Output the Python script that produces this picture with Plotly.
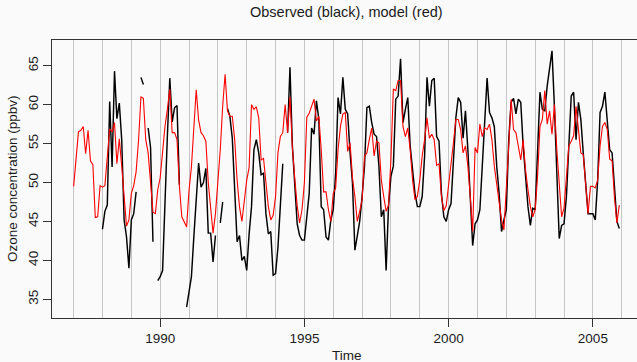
import plotly.graph_objects as go

start_year = 1987
months_per_year = 12

# Observed ozone (ppbv), monthly Jan 1987 - Dec 2005 (None = missing)
observed = [
    None, None, None, None, None, None, None, None, None, None, None, None,   # 1987
    44.0, 46.3, 47.1, 60.4, 52.0, 64.3, 58.2, 60.2, 55.5, 45.2, 43.0, 39.0,   # 1988
    45.2, 46.0, 48.8, None, 63.5, 62.6, None, 57.0, 54.5, 42.4, None, 37.4,   # 1989
    37.9, 38.7, 48.0, 56.0, 63.4, 57.8, 59.6, 59.9, 49.7, None, None, 34.0,   # 1990
    36.0, 37.9, 43.0, 48.5, 52.5, 49.4, 50.0, 51.8, 43.5, 43.5, 39.8, 43.2,   # 1991
    None, 44.8, 47.5, None, 59.5, 58.5, 55.7, 49.1, 42.4, 43.2, 40.0, 40.5,   # 1992
    38.7, 43.4, 46.9, 54.2, 55.5, 53.8, 51.0, 51.2, 46.0, 43.4, 43.7, 38.1,   # 1993
    38.3, 41.7, 46.9, 52.4, None, 56.4, 64.8, 54.7, 49.5, 44.7, 43.2, 42.6,   # 1994
    42.6, 45.2, 48.6, 57.0, 56.2, 60.5, 58.1, 46.9, 46.5, 43.0, 42.6, 45.2,   # 1995
    46.5, 51.2, 60.9, 58.8, 63.5, 59.4, 58.8, 53.8, 49.9, 41.3, 43.0, 45.0,   # 1996
    48.2, 52.1, 59.6, 59.8, 57.7, 56.2, 55.9, 52.1, 45.6, 46.5, 38.7, 47.0,   # 1997
    50.8, 52.1, 60.7, 61.1, 65.9, 57.7, 59.4, 60.9, 54.7, 51.2, 48.6, 46.9,   # 1998
    46.9, 48.2, 53.4, 63.5, 59.8, 63.1, 63.4, 55.9, 55.3, 48.6, 45.6, 45.0,   # 1999
    46.5, 47.3, 52.1, 58.3, 60.9, 60.3, 55.7, 59.2, 54.2, 48.2, 41.9, 44.7,   # 2000
    45.2, 46.5, 52.1, 57.7, 63.4, 59.0, 58.3, 57.2, 52.1, 48.6, 43.7, 45.2,   # 2001
    46.5, 55.5, 60.3, 60.8, 58.8, 60.7, 60.3, 54.7, 50.3, 46.9, 44.5, 46.7,   # 2002
    46.5, 54.2, 61.6, 59.4, 59.2, 62.4, 64.6, 66.9, 59.8, 51.2, 42.8, 44.5,   # 2003
    44.7, 48.2, 54.2, 61.1, 61.6, 55.5, 60.3, 58.1, 53.8, 49.9, 46.0, 46.0,   # 2004
    46.0, 45.2, 50.3, 59.0, 59.8, 61.6, 58.1, 54.2, 53.8, 49.9, 45.0, 44.1,   # 2005
]

# Model ozone (ppbv), monthly Jan 1987 - Dec 2005
model = [
    49.5, 53.0, 56.5, 56.7, 57.2, 53.7, 56.7, 52.8, 52.3, 45.5, 45.6, 49.6,   # 1987
    49.4, 49.6, 53.8, 56.9, 56.5, 57.7, 52.4, 55.6, 52.1, 47.8, 44.4, 45.2,   # 1988
    48.6, 49.6, 51.4, 55.4, 61.0, 60.8, 55.5, 53.8, 49.9, 46.2, 46.0, 49.1,   # 1989
    50.6, 54.2, 57.2, 59.4, 62.0, 56.4, 56.4, 55.5, 49.5, 45.6, 45.0, 44.3,   # 1990
    49.0, 52.0, 57.0, 61.9, 58.0, 56.4, 56.0, 55.3, 50.0, 46.7, 43.5, 46.0,   # 1991
    49.9, 54.2, 59.8, 63.9, 59.2, 58.5, 58.5, 55.5, 50.3, 46.9, 45.0, 47.8,   # 1992
    50.3, 51.9, 60.0, 59.4, 59.7, 58.3, 52.9, 53.1, 49.5, 46.9, 45.2, 45.8,   # 1993
    48.2, 53.8, 55.9, 56.4, 60.0, 56.4, 61.0, 54.5, 50.5, 47.0, 44.8, 46.5,   # 1994
    50.0, 58.4, 58.9, 59.7, 60.7, 57.9, 58.5, 54.2, 48.8, 48.8, 46.5, 45.0,   # 1995
    48.6, 49.3, 54.2, 57.2, 58.8, 59.0, 54.0, 55.1, 50.6, 48.2, 45.0, 46.3,   # 1996
    47.8, 53.4, 53.8, 55.5, 57.0, 53.4, 55.3, 55.1, 50.3, 48.2, 46.3, 47.1,   # 1997
    53.0, 62.0, 61.8, 63.1, 63.1, 57.2, 55.9, 57.0, 54.2, 50.3, 47.8, 48.2,   # 1998
    50.3, 53.4, 55.5, 58.3, 55.7, 56.2, 55.5, 52.2, 52.4, 48.2, 46.4, 47.0,   # 1999
    49.5, 52.5, 55.1, 58.1, 58.1, 56.8, 53.8, 54.7, 52.1, 48.2, 43.7, 54.5,   # 2000
    53.8, 57.5, 55.9, 57.0, 56.8, 57.5, 55.5, 52.1, 49.9, 47.8, 45.2, 43.9,   # 2001
    48.6, 54.7, 60.7, 56.8, 56.4, 54.7, 52.9, 55.5, 51.6, 49.1, 46.9, 45.6,   # 2002
    46.5, 50.8, 57.2, 58.1, 61.8, 57.5, 59.2, 56.2, 60.0, 54.2, 49.5, 45.6,   # 2003
    46.7, 50.3, 54.7, 55.3, 56.0, 59.8, 56.8, 53.8, 53.6, 50.3, 46.0, 49.5,   # 2004
    49.5, 49.3, 50.3, 54.7, 57.2, 57.7, 56.8, 53.0, 52.8, 48.0, 44.8, 47.1,   # 2005
]

x_tick_values = [1990, 1995, 2000, 2005]
y_tick_values = [35, 40, 45, 50, 55, 60, 65]
year_lines = list(range(1987, 2007))

time = [start_year + i / months_per_year for i in range(len(model))]

font_family = "Liberation Sans, Arial, Helvetica, sans-serif"
axis_color = "#333333"

fig = go.Figure()
fig.add_trace(go.Scatter(x=time, y=observed, mode="lines",
                         line=dict(color="black", width=1.45),
                         connectgaps=False, hoverinfo="skip"))
fig.add_trace(go.Scatter(x=time, y=model, mode="lines",
                         line=dict(color="#ff0000", width=1.1),
                         hoverinfo="skip"))

fig.update_layout(
    width=637, height=362,
    margin=dict(l=52, r=0, t=40, b=44),
    paper_bgcolor="#fafafa", plot_bgcolor="#fafafa",
    showlegend=False,
    font=dict(family=font_family, size=13.5, color="#1a1a1a"),
    xaxis=dict(
        range=[1986.25, 2006.53],
        tickmode="array", tickvals=x_tick_values,
        ticks="outside", ticklen=8, tickcolor=axis_color, tickwidth=1,
        showgrid=False, zeroline=False,
        showline=True, linecolor=axis_color, linewidth=1, mirror=True,
        minor=dict(tickmode="array", tickvals=year_lines, showgrid=True,
                   gridcolor="#c6c6c6", gridwidth=1, ticks=""),
    ),
    yaxis=dict(
        range=[32.6, 68.3],
        tickmode="array", tickvals=y_tick_values,
        ticks="outside", ticklen=8, tickcolor=axis_color, tickwidth=1,
        tickangle=-90,
        showgrid=False, zeroline=False,
        showline=True, linecolor=axis_color, linewidth=1, mirror=False,
    ),
    annotations=[
        dict(text="Observed (black), model (red)", xref="paper", yref="paper",
             x=0.5, y=1, xshift=2, yshift=28, showarrow=False,
             xanchor="center", yanchor="middle", font=dict(size=14.5)),
        dict(text="Time", xref="paper", yref="paper",
             x=0.5, y=0, xshift=2, yshift=-37, showarrow=False,
             xanchor="center", yanchor="middle"),
        dict(text="Ozone concentration (ppbv)", xref="paper", yref="paper",
             x=0, y=0.5, xshift=-40, showarrow=False, textangle=-90,
             xanchor="center", yanchor="middle"),
    ],
)

fig.write_html("out.html")
